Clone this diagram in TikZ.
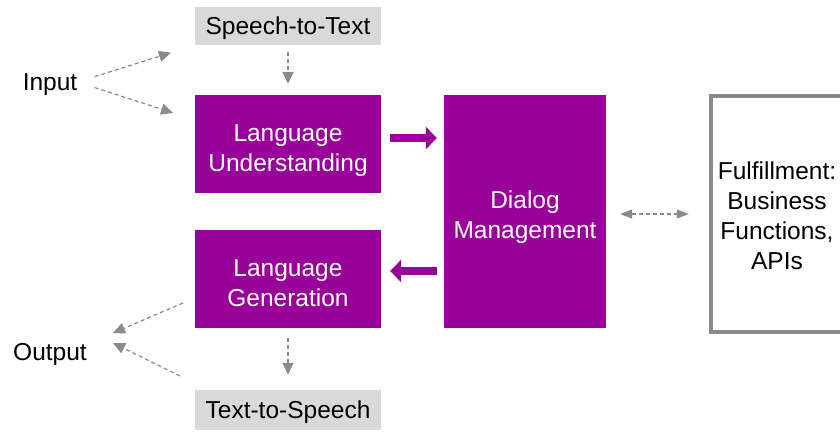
\documentclass[tikz,border=0pt]{standalone}
\usepackage{fontspec}
\setmainfont{Liberation Sans}
\usetikzlibrary{arrows.meta}

\definecolor{dmpurple}{HTML}{990099}
\definecolor{sttgray}{HTML}{D9D9D9}
\definecolor{linegray}{HTML}{8A8A8A}

\tikzset{
  lbl/.style={font=\fontsize{24.5}{30}\selectfont, align=center, inner sep=0pt, text depth=0pt},
  purplebox/.style={lbl, fill=dmpurple, text=white, minimum width=186, minimum height=98,
    text height=54pt},
  graybox/.style={lbl, fill=sttgray, minimum width=186, minimum height=38},
  fulfilbox/.style={lbl, draw=linegray, line width=4.5, minimum width=132, minimum height=236,
    text height=111pt},
  dasharrow/.style={linegray, line width=1.2, dash pattern=on 4 off 3,
    -{Triangle[length=12,width=11]}},
  bigarrow/.style={dmpurple, line width=8, -{Triangle[length=11,width=22]}}
}

\begin{document}
\begin{tikzpicture}[x=1pt,y=-1pt]
  \useasboundingbox (0,0) rectangle (840,431);

  \node[graybox] (stt) at (288,26) {Speech-to-Text};
  \node[purplebox] (lu) at (288,144) {Language\\Understanding};
  \node[purplebox] (lg) at (288,279) {Language\\Generation};
  \node[graybox, minimum height=40] (tts) at (288,410) {Text-to-Speech};
  \node[purplebox, minimum width=162, minimum height=233] (dm) at (525,211.5) {Dialog\\Management};
  \node[fulfilbox] (ff) at (777,214) {Fulfillment:\\Business\\Functions,\\APIs};

  \node[lbl] (input) at (50,82) {Input};
  \node[lbl] (output) at (50,352) {Output};

  \coordinate (inlu) at (195,120);
  \coordinate (lgout) at (183,303);
  \coordinate (ttsout) at (180,376);
  \coordinate (outup) at (113,333);
  \coordinate (outdn) at (113,343);

  % input side
  \draw[dasharrow, shorten <=18, shorten >=25] (input.east) -- (stt.south west);
  \draw[dasharrow, shorten <=18, shorten >=23] (input.east) -- (inlu);
  \draw[dasharrow, shorten <=7, shorten >=11] (stt.south) -- (lu.north);

  % dialog loop
  \draw[bigarrow, shorten <=9, shorten >=7] ([yshift=6]lu.east) -- ([yshift=6]lu.east -| dm.west);
  \draw[bigarrow, shorten <=7, shorten >=9] ([yshift=8]lg.east -| dm.west) -- ([yshift=8]lg.east);
  \draw[dasharrow, {Triangle[length=12,width=9]}-{Triangle[length=12,width=9]},
    shorten <=14, shorten >=20] (dm.east |- ff.west) -- (ff.west);

  % output side
  \draw[dasharrow] (lgout) -- (outup);
  \draw[dasharrow] (ttsout) -- (outdn);
  \draw[dasharrow, shorten <=10, shorten >=15] (lg.south) -- (tts.north);
\end{tikzpicture}
\end{document}
